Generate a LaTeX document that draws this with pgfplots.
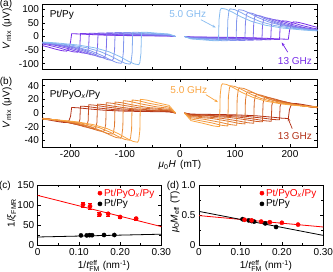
\documentclass[border=0pt]{standalone}
\usepackage{amsmath}
\usepackage{fontspec}
\setmainfont{Liberation Sans}
\usepackage{pgfplots}
\pgfplotsset{compat=1.18}
\usetikzlibrary{arrows.meta}
\definecolor{aS}{RGB}{135,188,240}
\definecolor{aE}{RGB}{118,42,232}
\definecolor{bS}{RGB}{250,165,65}
\definecolor{bE}{RGB}{178,48,22}
\colorlet{a0}{aE!0!aS}\colorlet{a1}{aE!12!aS}\colorlet{a2}{aE!25!aS}\colorlet{a3}{aE!37!aS}\colorlet{a4}{aE!50!aS}
\colorlet{a5}{aE!62!aS}\colorlet{a6}{aE!75!aS}\colorlet{a7}{aE!87!aS}\colorlet{a8}{aE!100!aS}
\colorlet{b0}{bE!0!bS}\colorlet{b1}{bE!12!bS}\colorlet{b2}{bE!25!bS}\colorlet{b3}{bE!37!bS}\colorlet{b4}{bE!50!bS}
\colorlet{b5}{bE!62!bS}\colorlet{b6}{bE!75!bS}\colorlet{b7}{bE!87!bS}\colorlet{b8}{bE!100!bS}
\newcommand{\fs}{\fontsize{10}{11}\selectfont}
\pgfplotsset{
 myax/.style={scale only axis, font=\fs,
  /pgf/number format/assume math mode=true,
  axis line style={line width=0.9pt}, tick style={line width=0.6pt, black},
  major tick length=3pt, minor tick length=1.8pt, tick align=inside},
 vm/.style={line width=0.8pt, no marks},
}
\begin{document}
\begin{tikzpicture}
\path[use as bounding box] (0pt,0pt) rectangle (333pt,272pt);
% ---------------- (a)
\begin{axis}[myax, at={(42.5pt,203pt)}, anchor=south west, width=275pt, height=65pt,
 xmin=-250, xmax=250, ymin=-120, ymax=120, xtick={-200,-100,0,100,200}, xticklabels={},
 minor x tick num=1, ytick={-100,-50,0,50,100}, minor y tick num=1]
\addplot[vm,a8] coordinates {(8,0) (20,-1.9) (97,-3.3) (137,-5.0) (167,-7.6) (185,-9.5) (194,-10) (197,-10) (199,20) (202,45) (206,54) (214,52.7) (226,46.9) (241,38.2) (250,33.6)};
\addplot[vm,a8] coordinates {(-8,0) (-20,1.9) (-97,3.3) (-137,5.0) (-167,7.6) (-185,9.5) (-194,10) (-197,10) (-199,-20) (-202,-45) (-206,-54) (-214,-52.7) (-226,-46.9) (-241,-38.2) (-250,-33.6)};
\addplot[vm,a7] coordinates {(8,0) (20,-2.3) (81,-3.6) (121,-5.5) (151,-8.3) (169,-10.4) (178,-11) (181,-11) (182,34.8) (184,53.9) (186,58) (194,56.6) (206,50.3) (221,41.0) (241,31.1) (250,27.8)};
\addplot[vm,a7] coordinates {(-8,0) (-20,2.3) (-81,3.6) (-121,5.5) (-151,8.3) (-169,10.4) (-178,11) (-181,11) (-182,-34.8) (-184,-53.9) (-186,-58) (-194,-56.6) (-206,-50.3) (-221,-41.0) (-241,-31.1) (-250,-27.8)};
\addplot[vm,a6] coordinates {(8,0) (20,-2.8) (65,-4.0) (105,-6.0) (135,-9.1) (153,-11.4) (162,-12) (165,-12) (166,37.2) (168,57.7) (170,62) (178,60.5) (190,53.8) (205,43.8) (225,33.3) (250,24.9)};
\addplot[vm,a6] coordinates {(-8,0) (-20,2.8) (-65,4.0) (-105,6.0) (-135,9.1) (-153,11.4) (-162,12) (-165,12) (-166,-37.2) (-168,-57.7) (-170,-62) (-178,-60.5) (-190,-53.8) (-205,-43.8) (-225,-33.3) (-250,-24.9)};
\addplot[vm,a5] coordinates {(8,0) (20,-3.4) (49,-4.3) (89,-6.6) (119,-9.9) (137,-12.3) (146,-12.9) (149,-13) (150,41.4) (152,64.2) (154,69) (162,67.3) (174,59.9) (189,48.8) (209,37.1) (234,27.7) (250,23.7)};
\addplot[vm,a5] coordinates {(-8,0) (-20,3.4) (-49,4.3) (-89,6.6) (-119,9.9) (-137,12.3) (-146,12.9) (-149,13) (-150,-41.4) (-152,-64.2) (-154,-69) (-162,-67.3) (-174,-59.9) (-189,-48.8) (-209,-37.1) (-234,-27.7) (-250,-23.7)};
\addplot[vm,a4] coordinates {(8,0) (20,-4.1) (33,-4.6) (73,-7.1) (103,-10.6) (121,-13.2) (130,-13.9) (133,-14) (134,46.8) (136,72.5) (138,78) (146,76.1) (158,67.7) (173,55.1) (193,41.9) (218,31.3) (250,23.3)};
\addplot[vm,a4] coordinates {(-8,0) (-20,4.1) (-33,4.6) (-73,7.1) (-103,10.6) (-121,13.2) (-130,13.9) (-133,14) (-134,-46.8) (-136,-72.5) (-138,-78) (-146,-76.1) (-158,-67.7) (-173,-55.1) (-193,-41.9) (-218,-31.3) (-250,-23.3)};
\addplot[vm,a3] coordinates {(8,0) (20,-5.0) (58,-7.6) (88,-11.4) (106,-14.2) (115,-14.9) (118,-15) (119,52.8) (121,81.8) (123,88) (131,85.8) (143,76.4) (158,62.2) (178,47.3) (203,35.3) (233,26.7) (250,23.4)};
\addplot[vm,a3] coordinates {(-8,0) (-20,5.0) (-58,7.6) (-88,11.4) (-106,14.2) (-115,14.9) (-118,15) (-119,-52.8) (-121,-81.8) (-123,-88) (-131,-85.8) (-143,-76.4) (-158,-62.2) (-178,-47.3) (-203,-35.3) (-233,-26.7) (-250,-23.4)};
\addplot[vm,a2] coordinates {(8,0) (20,-5.9) (42,-7.6) (72,-11.4) (90,-14.2) (99,-14.9) (102,-15) (103,59.4) (105,92.1) (107,99) (115,96.5) (127,85.9) (142,70.0) (162,53.2) (187,39.7) (217,30.0) (250,23.5)};
\addplot[vm,a2] coordinates {(-8,0) (-20,5.9) (-42,7.6) (-72,11.4) (-90,14.2) (-99,14.9) (-102,15) (-103,-59.4) (-105,-92.1) (-107,-99) (-115,-96.5) (-127,-85.9) (-142,-70.0) (-162,-53.2) (-187,-39.7) (-217,-30.0) (-250,-23.5)};
\addplot[vm,a1] coordinates {(8,0) (20,-7.5) (56,-12.1) (74,-15.1) (83,-15.9) (86,-16) (87,61.2) (89,94.9) (91,102) (99,99.5) (111,88.5) (126,72.1) (146,54.8) (171,40.9) (201,30.9) (241,23.2) (250,21.9)};
\addplot[vm,a1] coordinates {(-8,0) (-20,7.5) (-56,12.1) (-74,15.1) (-83,15.9) (-86,16) (-87,-61.2) (-89,-94.9) (-91,-102) (-99,-99.5) (-111,-88.5) (-126,-72.1) (-146,-54.8) (-171,-40.9) (-201,-30.9) (-241,-23.2) (-250,-21.9)};
\addplot[vm,a0] coordinates {(8,0) (20,-9.2) (40,-12.1) (58,-15.1) (67,-15.9) (70,-16) (71,62.4) (73,96.7) (75,104) (83,101.4) (95,90.3) (110,73.5) (130,55.8) (155,41.7) (185,31.5) (225,23.6) (250,20.4)};
\addplot[vm,a0] coordinates {(-8,0) (-20,9.2) (-40,12.1) (-58,15.1) (-67,15.9) (-70,16) (-71,-62.4) (-73,-96.7) (-75,-104) (-83,-101.4) (-95,-90.3) (-110,-73.5) (-130,-55.8) (-155,-41.7) (-185,-31.5) (-225,-23.6) (-250,-20.4)};
\node[anchor=west] at (axis cs:-243,80) {Pt/Py};
\node[text=aS] at (axis cs:14,81) {5.0 GHz};
\draw[aS, line width=0.7pt, -{Stealth[length=3.5pt]}] (axis cs:38,62) -- (axis cs:65,33);
\node[text=aE] at (axis cs:209,-89) {13 GHz};
\draw[aE, line width=0.7pt, -{Stealth[length=3.5pt]}] (axis cs:196,-58) -- (axis cs:185,-22);
\end{axis}
% ---------------- (b)
\begin{axis}[myax, at={(42.5pt,125pt)}, anchor=south west, width=275pt, height=68pt,
 xmin=-250, xmax=250, ymin=-50, ymax=50, xtick={-200,-100,0,100,200},
 minor x tick num=1, ytick={-40,-20,0,20,40}, minor y tick num=1]
\addplot[vm,b8] coordinates {(8,0) (20,-1.6) (97,-2.6) (137,-4.0) (167,-6.1) (185,-7.6) (194,-8) (197,-8) (199,5) (202,11.5) (206,14) (214,13.7) (226,12.1) (241,9.9) (250,8.7)};
\addplot[vm,b8] coordinates {(-8,0) (-20,1.6) (-97,2.6) (-137,4.0) (-167,6.1) (-185,7.6) (-194,8) (-197,8) (-199,-5) (-202,-11.5) (-206,-14) (-214,-13.7) (-226,-12.1) (-241,-9.9) (-250,-8.7)};
\addplot[vm,b7] coordinates {(8,0) (20,-2.1) (81,-3.3) (121,-5.0) (151,-7.6) (169,-9.5) (178,-10) (181,-10) (182,9.6) (184,14.9) (186,16) (194,15.6) (206,13.9) (221,11.3) (241,8.6) (250,7.7)};
\addplot[vm,b7] coordinates {(-8,0) (-20,2.1) (-81,3.3) (-121,5.0) (-151,7.6) (-169,9.5) (-178,10) (-181,10) (-182,-9.6) (-184,-14.9) (-186,-16) (-194,-15.6) (-206,-13.9) (-221,-11.3) (-241,-8.6) (-250,-7.7)};
\addplot[vm,b6] coordinates {(8,0) (20,-2.8) (66,-4.0) (106,-6.0) (136,-9.1) (154,-11.4) (163,-12) (166,-12) (167,11.4) (169,17.7) (171,19) (179,18.5) (191,16.5) (206,13.4) (226,10.2) (250,7.7)};
\addplot[vm,b6] coordinates {(-8,0) (-20,2.8) (-66,4.0) (-106,6.0) (-136,9.1) (-154,11.4) (-163,12) (-166,12) (-167,-11.4) (-169,-17.7) (-171,-19) (-179,-18.5) (-191,-16.5) (-206,-13.4) (-226,-10.2) (-250,-7.7)};
\addplot[vm,b5] coordinates {(8,0) (20,-3.4) (50,-4.3) (90,-6.6) (120,-9.9) (138,-12.3) (147,-12.9) (150,-13) (151,13.8) (153,21.4) (155,23) (163,22.4) (175,20.0) (190,16.3) (210,12.4) (235,9.2) (250,8.0)};
\addplot[vm,b5] coordinates {(-8,0) (-20,3.4) (-50,4.3) (-90,6.6) (-120,9.9) (-138,12.3) (-147,12.9) (-150,13) (-151,-13.8) (-153,-21.4) (-155,-23) (-163,-22.4) (-175,-20.0) (-190,-16.3) (-210,-12.4) (-235,-9.2) (-250,-8.0)};
\addplot[vm,b4] coordinates {(8,0) (20,-4.4) (34,-5.0) (74,-7.6) (104,-11.4) (122,-14.2) (131,-14.9) (134,-15) (135,16.2) (137,25.1) (139,27) (147,26.3) (159,23.4) (174,19.1) (194,14.5) (219,10.8) (250,8.1)};
\addplot[vm,b4] coordinates {(-8,0) (-20,4.4) (-34,5.0) (-74,7.6) (-104,11.4) (-122,14.2) (-131,14.9) (-134,15) (-135,-16.2) (-137,-25.1) (-139,-27) (-147,-26.3) (-159,-23.4) (-174,-19.1) (-194,-14.5) (-219,-10.8) (-250,-8.1)};
\addplot[vm,b3] coordinates {(8,0) (20,-5.4) (58,-8.1) (88,-12.1) (106,-15.1) (115,-15.9) (118,-16) (119,18.6) (121,28.8) (123,31) (131,30.2) (143,26.9) (158,21.9) (178,16.6) (203,12.4) (233,9.4) (250,8.2)};
\addplot[vm,b3] coordinates {(-8,0) (-20,5.4) (-58,8.1) (-88,12.1) (-106,15.1) (-115,15.9) (-118,16) (-119,-18.6) (-121,-28.8) (-123,-31) (-131,-30.2) (-143,-26.9) (-158,-21.9) (-178,-16.6) (-203,-12.4) (-233,-9.4) (-250,-8.2)};
\addplot[vm,b2] coordinates {(8,0) (20,-7.0) (43,-9.1) (73,-13.7) (91,-17.0) (100,-17.9) (103,-18) (104,22.2) (106,34.4) (108,37) (116,36.1) (128,32.1) (143,26.2) (163,19.9) (188,14.8) (218,11.2) (250,8.8)};
\addplot[vm,b2] coordinates {(-8,0) (-20,7.0) (-43,9.1) (-73,13.7) (-91,17.0) (-100,17.9) (-103,18) (-104,-22.2) (-106,-34.4) (-108,-37) (-116,-36.1) (-128,-32.1) (-143,-26.2) (-163,-19.9) (-188,-14.8) (-218,-11.2) (-250,-8.8)};
\addplot[vm,b1] coordinates {(8,0) (20,-8.8) (57,-14.4) (75,-18.0) (84,-18.9) (87,-19) (88,24) (90,37.2) (92,40) (100,39) (112,34.7) (127,28.3) (147,21.5) (172,16.0) (202,12.1) (242,9.1) (250,8.6)};
\addplot[vm,b1] coordinates {(-8,0) (-20,8.8) (-57,14.4) (-75,18.0) (-84,18.9) (-87,19) (-88,-24) (-90,-37.2) (-92,-40) (-100,-39) (-112,-34.7) (-127,-28.3) (-147,-21.5) (-172,-16.0) (-202,-12.1) (-242,-9.1) (-250,-8.6)};
\addplot[vm,b0] coordinates {(8,0) (20,-11.2) (42,-15.2) (60,-18.9) (69,-19.9) (72,-20) (73,25.8) (75,40.0) (77,43) (85,41.9) (97,37.3) (112,30.4) (132,23.1) (157,17.2) (187,13.0) (227,9.8) (250,8.5)};
\addplot[vm,b0] coordinates {(-8,0) (-20,11.2) (-42,15.2) (-60,18.9) (-69,19.9) (-72,20) (-73,-25.8) (-75,-40.0) (-77,-43) (-85,-41.9) (-97,-37.3) (-112,-30.4) (-132,-23.1) (-157,-17.2) (-187,-13.0) (-227,-9.8) (-250,-8.5)};
\node[anchor=west] at (axis cs:-243,27) {Pt/PyO\textsubscript{\textit{x}}/Py};
\node[text=bS] at (axis cs:16,34) {5.0 GHz};
\draw[bS, line width=0.7pt, -{Stealth[length=3.5pt]}] (axis cs:47,27) -- (axis cs:69,16);
\node[text=bE] at (axis cs:209,-34) {13 GHz};
\draw[bE, line width=0.7pt, -{Stealth[length=3.5pt]}] (axis cs:204,-23) -- (axis cs:196,-7);
\end{axis}
% ---------------- (c)
\begin{axis}[myax, at={(37.7pt,27pt)}, anchor=south west, width=123.6pt, height=60pt,
 xmin=0, xmax=0.3, ymin=0, ymax=150, xtick={0,0.1,0.2,0.3}, xticklabels={0,0.10,0.20,0.30},
 minor x tick num=1, ytick={0,50,100,150}, minor y tick num=1,
 legend style={draw=none, fill=none, at={(0.97,0.99)}, anchor=north east, font=\fs, inner sep=1pt, row sep=-2pt},
 legend cell align=left,
 legend image code/.code={\draw[#1] plot coordinates {(4pt,0pt)};}]
\addlegendimage{only marks, mark=*, red, mark size=2.1pt}
\addlegendentry{\textcolor{red}{Pt/PyO\textsubscript{\textit{x}}/Py}}
\addlegendimage{only marks, mark=*, black, mark size=2.1pt}
\addlegendentry{Pt/Py}
\addplot[red, line width=0.8pt, forget plot] coordinates {(0,124) (0.3,46)};
\addplot[black, line width=0.8pt, forget plot] coordinates {(0,20) (0.3,27)};
\addplot[only marks, mark=*, red, mark size=2.1pt, forget plot, error bars/.cd, y dir=both, y explicit, error mark options={rotate=90, mark size=2pt, red}] coordinates {(0.110,101) +- (0,7) (0.127,97) +- (0,7) (0.150,76) +- (0,5) (0.171,78) +- (0,5) (0.200,70) +- (0,3) (0.239,66) +- (0,3)};
\addplot[only marks, mark=*, black, mark size=2.1pt, forget plot] coordinates {(0.105,24) (0.119,24) (0.126,24.5) (0.132,24.5) (0.161,25) (0.186,25)};
\end{axis}
% ---------------- (d)
\begin{axis}[myax, at={(199pt,27pt)}, anchor=south west, width=124.3pt, height=60pt,
 xmin=0, xmax=0.3, ymin=0, ymax=1, xtick={0,0.1,0.2,0.3}, xticklabels={0,0.10,0.20,0.30},
 minor x tick num=1, ytick={0,0.5,1}, yticklabels={0,0.5,1.0}, minor y tick num=1,
 legend style={draw=none, fill=none, at={(0.97,0.99)}, anchor=north east, font=\fs, inner sep=1pt, row sep=-2pt},
 legend cell align=left,
 legend image code/.code={\draw[#1] plot coordinates {(4pt,0pt)};}]
\addlegendimage{only marks, mark=*, red, mark size=2.1pt}
\addlegendentry{\textcolor{red}{Pt/PyO\textsubscript{\textit{x}}/Py}}
\addlegendimage{only marks, mark=*, black, mark size=2.1pt}
\addlegendentry{Pt/Py}
\addplot[red, line width=0.8pt, forget plot] coordinates {(0,0.49) (0.3,0.30)};
\addplot[black, line width=0.8pt, forget plot] coordinates {(0,0.56) (0.3,0.16)};
\addplot[only marks, mark=*, black, mark size=2.1pt, forget plot] coordinates {(0.105,0.43) (0.120,0.41) (0.127,0.40) (0.133,0.39) (0.160,0.36) (0.186,0.30)};
\addplot[only marks, mark=*, red, mark size=2.1pt, forget plot] coordinates {(0.110,0.42) (0.127,0.41) (0.150,0.39) (0.171,0.38) (0.200,0.37) (0.239,0.34)};
\end{axis}
% ---------------- labels
\node[rotate=90, font=\fs] at (7pt,243pt) {\textit{V}\textsubscript{mix} (μV)};
\node[rotate=90, font=\fs] at (7pt,164pt) {\textit{V}\textsubscript{mix} (μV)};
\node[font=\fs] at (180pt,107pt) {\textit{μ}\textsubscript{0}\textit{H}\, (mT)};
\node[rotate=90, font=\fs] at (12pt,59pt) {1/\textit{ξ}\textsubscript{FMR}};
\node[font=\fs] at (104pt,6pt) {1/\textit{t}$^{\text{eff}}_{\text{FM}}$ (nm\textsuperscript{-1})};
\node[rotate=90, font=\fs] at (175pt,60pt) {\textit{μ}\textsubscript{0}\textit{M}\textsubscript{eff} (T)};
\node[font=\fs] at (266pt,6pt) {1/\textit{t}$^{\text{eff}}_{\text{FM}}$ (nm\textsuperscript{-1})};
\node[font=\fs] at (6pt,268pt) {(a)};
\node[font=\fs] at (6pt,190pt) {(b)};
\node[font=\fs] at (5pt,86pt) {(c)};
\node[font=\fs] at (173pt,86pt) {(d)};
\end{tikzpicture}
\end{document}
